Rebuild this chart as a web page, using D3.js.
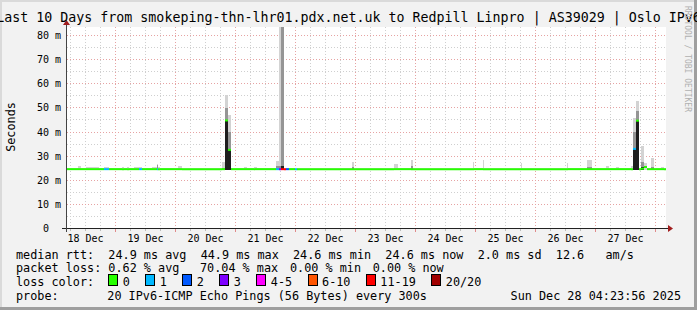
<!DOCTYPE html>
<html>
<head>
<meta charset="utf-8">
<script src="https://cdn.jsdelivr.net/npm/d3@7"></script>
<style>
html, body { margin: 0; padding: 0; background: #f2f2f2; }
svg { display: block; font-family: "DejaVu Sans Mono", monospace; }
text { white-space: pre; }
</style>
</head>
<body>
<svg id="chart" width="697" height="310"></svg>
<script>
// time window of the graph
var startTime = new Date(2025, 11, 18, 4, 23, 56);
var endTime = new Date(2025, 11, 28, 4, 23, 56);

var titleText = "Last 10 Days from smokeping-thn-lhr01.pdx.net.uk to Redpill Linpro | AS39029 | Oslo IPv6";
var yTickValues = [0, 10, 20, 30, 40, 50, 60, 70, 80];

var lossLabels = ["0", "1", "2", "3", "4-5", "6-10", "11-19", "20/20"];
var lossUpper = [0, 1, 2, 3, 5, 10, 19, 20];
var lossColors = ["#26ff00", "#00b8ff", "#0059ff", "#7e00ff", "#ff00ff", "#ff5500", "#ff0000", "#a10000"];

// samples: start of each step, hours after startTime
var sampleHours = [0, 4.5, 5.8, 7.6, 12.8, 14.8, 16.8, 22.0, 22.8, 24.0,
  24.8, 26.8, 28.8, 30.0, 34.0, 36.0, 36.6, 37.2, 44.4, 46.0,
  62.0, 63.3, 64.5, 65.9, 70.8, 72.0, 74.8, 76.0, 83.7, 84.8,
  85.7, 86.8, 87.7, 88.8, 91.2, 92.0, 114.2, 115.0, 131.2, 132.4,
  137.8, 138.4, 162.4, 163.0, 166.4, 167.0, 181.6, 182.2, 200.0, 200.6,
  208.3, 210.3, 215.6, 216.8, 219.6, 220.8, 225.6, 226.5, 227.9, 228.9,
  229.8, 231.0, 232.0, 233.9, 234.8, 237.6, 239.0];

// median rtt in ms
var medianMs = [24.6, 24.6, 24.6, 24.6, 24.6, 24.6, 24.6, 24.6, 24.6, 24.6,
  24.6, 24.6, 24.6, 24.6, 24.6, 24.6, 24.6, 24.6, 24.6, 24.6,
  24.6, 44.8, 32.6, 24.6, 24.6, 24.6, 24.6, 24.6, 24.6, 24.6,
  24.6, 24.6, 24.6, 24.6, 24.6, 24.6, 24.6, 24.6, 24.6, 24.6,
  24.6, 24.6, 24.6, 24.6, 24.6, 24.6, 24.6, 24.6, 24.6, 24.6,
  24.6, 24.6, 24.6, 24.6, 24.6, 24.6, 24.6, 33.0, 44.7, 24.6,
  24.8, 25.5, 24.6, 24.6, 24.6, 24.6, 24.6];

// lost pings out of 20
var lossPings = [0, 0, 0, 0, 0, 1, 0, 0, 0, 0,
  0, 0, 1, 0, 0, 1, 0, 0, 0, 0,
  0, 0, 0, 0, 0, 0, 0, 0, 1, 3,
  14, 14, 2, 0, 1, 0, 0, 0, 0, 0,
  0, 0, 0, 0, 0, 0, 0, 0, 0, 0,
  0, 0, 0, 0, 0, 0, 0, 1, 0, 0,
  0, 0, 0, 0, 0, 0, 0];

// smoke: max ping, upper quartile-ish, dense part
var smokeMax = [25.0, 25.7, 25.0, 25.4, 25.0, 25.5, 25.0, 25.5, 25.0, 25.5,
  25.0, 25.4, 25.4, 25.0, 25.4, 26.6, 25.4, 25.0, 25.8, 25.0,
  27.7, 55.4, 47.1, 25.0, 25.5, 25.0, 25.5, 25.0, 28.0, 95.0,
  95.0, 25.0, 25.0, 25.0, 25.0, 25.0, 27.4, 25.0, 26.8, 25.0,
  28.6, 25.0, 27.5, 25.0, 28.2, 25.0, 27.0, 25.0, 27.0, 25.0,
  28.2, 25.0, 25.7, 25.0, 25.5, 25.0, 26.0, 46.0, 52.8, 25.0,
  34.0, 27.0, 25.0, 29.4, 25.0, 25.4, 25.0];

var smokeMid = [24.6, 24.6, 24.6, 24.6, 24.6, 24.6, 24.6, 24.6, 24.6, 24.6,
  24.6, 24.6, 24.6, 24.6, 24.6, 26.4, 24.6, 24.6, 24.6, 24.6,
  25.2, 50.0, 40.0, 24.6, 24.6, 24.6, 24.6, 24.6, 26.0, 26.0,
  95.0, 24.6, 24.6, 24.6, 24.6, 24.6, 25.3, 24.6, 24.6, 24.6,
  26.0, 24.6, 24.6, 24.6, 24.6, 24.6, 24.6, 24.6, 24.6, 24.6,
  25.6, 24.6, 24.6, 24.6, 24.6, 24.6, 24.6, 40.0, 48.5, 24.6,
  27.5, 24.6, 24.6, 25.5, 24.6, 24.6, 24.6];

var smokeDark = [24.6, 24.6, 24.6, 24.6, 24.6, 24.6, 24.6, 24.6, 24.6, 24.6,
  24.6, 24.6, 24.6, 24.6, 24.6, 24.6, 24.6, 24.6, 24.6, 24.6,
  24.6, 44.8, 32.6, 24.6, 24.6, 24.6, 24.6, 24.6, 24.6, 24.6,
  26.0, 24.6, 24.6, 24.6, 24.6, 24.6, 24.6, 24.6, 24.6, 24.6,
  24.6, 24.6, 24.6, 24.6, 24.6, 24.6, 24.6, 24.6, 24.6, 24.6,
  24.6, 24.6, 24.6, 24.6, 24.6, 24.6, 24.6, 33.0, 44.7, 24.6,
  25.5, 24.6, 24.6, 24.6, 24.6, 24.6, 24.6];

var smokeMinMs = 24.4;

var statsRtt = "median rtt:  24.9 ms avg  44.9 ms max  24.6 ms min  24.6 ms now  2.0 ms sd  12.6   am/s";
var statsLoss = [["packet loss: 0.62 % avg", 16], ["70.04 % max", 200], ["0.00 % min", 290], ["0.00 % now", 372.7]];
var probeText = "20 IPv6-ICMP Echo Pings (56 Bytes) every 300s";
var stampText = "Sun Dec 28 04:23:56 2025";

var W = 697, H = 310;
var plotLeft = 67, plotRight = 666, plotTop = 27, plotBottom = 228;

var svg = d3.select("#chart");

// canvas and 3d border
svg.append("rect").attr("width", W).attr("height", H).attr("fill", "#f2f2f2");
svg.append("rect").attr("x", 0).attr("y", 0).attr("width", W).attr("height", 2).attr("fill", "#dadada");
svg.append("rect").attr("x", 0).attr("y", 0).attr("width", 2).attr("height", H).attr("fill", "#dadada");
svg.append("rect").attr("x", 0).attr("y", H - 3).attr("width", W).attr("height", 3).attr("fill", "#9f9f9f");
svg.append("rect").attr("x", W - 3).attr("y", 0).attr("width", 3).attr("height", H).attr("fill", "#9f9f9f");

svg.append("rect")
  .attr("x", plotLeft).attr("y", plotTop)
  .attr("width", plotRight - plotLeft).attr("height", plotBottom - plotTop)
  .attr("fill", "#ffffff");

var x = d3.scaleTime().domain([startTime, endTime]).range([66.5, 666.5]);
var y = d3.scaleLinear().domain([0, 80]).range([228.5, 35.5]);

function hoursToDate(h) { return new Date(startTime.getTime() + h * 3600 * 1000); }
function px(v) { return Math.floor(v) + 0.5; }

// grid
var grid = svg.append("g").attr("shape-rendering", "crispEdges");
var minorX = d3.timeHour.every(6).range(startTime, endTime).filter(d => d.getHours() != 0);
var majorX = d3.timeDay.range(startTime, endTime);
grid.selectAll(".vminor").data(minorX).enter().append("line")
  .attr("x1", d => px(x(d))).attr("x2", d => px(x(d)))
  .attr("y1", plotTop).attr("y2", plotBottom)
  .attr("stroke", "#cfcfcf").attr("stroke-dasharray", "1,2");
var minorY = d3.range(5, 85, 10);
grid.selectAll(".hminor").data(minorY).enter().append("line")
  .attr("x1", plotLeft).attr("x2", plotRight)
  .attr("y1", d => px(y(d))).attr("y2", d => px(y(d)))
  .attr("stroke", "#cfcfcf").attr("stroke-dasharray", "1,2");
grid.selectAll(".vmajor").data(majorX).enter().append("line")
  .attr("x1", d => px(x(d))).attr("x2", d => px(x(d)))
  .attr("y1", plotTop).attr("y2", plotBottom)
  .attr("stroke", "#e6a3a3").attr("stroke-dasharray", "1,2");
grid.selectAll(".hmajor").data(yTickValues.filter(v => v > 0)).enter().append("line")
  .attr("x1", plotLeft).attr("x2", plotRight)
  .attr("y1", d => px(y(d))).attr("y2", d => px(y(d)))
  .attr("stroke", "#e6a3a3").attr("stroke-dasharray", "1,2");

// clip to plot
svg.append("clipPath").attr("id", "plotclip").append("rect")
  .attr("x", plotLeft).attr("y", plotTop)
  .attr("width", plotRight - plotLeft).attr("height", plotBottom - plotTop);

var samples = sampleHours.map(function (h, i) {
  var next = i < sampleHours.length - 1 ? sampleHours[i + 1] : 240;
  return {
    t0: hoursToDate(h), t1: hoursToDate(next),
    median: medianMs[i], loss: lossPings[i],
    max: smokeMax[i], mid: smokeMid[i], dark: smokeDark[i]
  };
});

var dataG = svg.append("g").attr("clip-path", "url(#plotclip)");

// smoke bands
var bands = [["max", "#d3d3d3"], ["mid", "#959595"], ["dark", "#1e1e1e"]];
bands.forEach(function (b) {
  dataG.append("g").attr("shape-rendering", "crispEdges")
    .selectAll("rect").data(samples.filter(d => d[b[0]] > d.median + 0.3 || (b[0] != "max" && d[b[0]] > smokeMinMs + 0.3)))
    .enter().append("rect")
    .attr("x", d => Math.round(x(d.t0)))
    .attr("width", d => Math.max(1, Math.round(x(d.t1)) - Math.round(x(d.t0))))
    .attr("y", d => y(d[b[0]]))
    .attr("height", d => y(smokeMinMs) - y(d[b[0]]))
    .attr("fill", b[1]);
});

// median line, colored by loss
function lossColor(n) {
  for (var i = 0; i < lossUpper.length; i++) if (n <= lossUpper[i]) return lossColors[i];
  return lossColors[lossColors.length - 1];
}
var seg = d3.line().x(p => p[0]).y(p => p[1]);
dataG.append("g").selectAll("path").data(samples).enter().append("path")
  .attr("d", d => seg([[Math.round(x(d.t0)), y(d.median)], [Math.round(x(d.t1)), y(d.median)]]))
  .attr("stroke", d => lossColor(d.loss))
  .attr("stroke-width", 2)
  .attr("fill", "none");

// axes
var axisG = svg.append("g").attr("shape-rendering", "crispEdges");
axisG.selectAll(".tmin").data(minorX).enter().append("line")
  .attr("x1", d => px(x(d))).attr("x2", d => px(x(d)))
  .attr("y1", 229).attr("y2", 231).attr("stroke", "#bbbbbb");
axisG.selectAll(".tmaj").data(majorX).enter().append("line")
  .attr("x1", d => px(x(d))).attr("x2", d => px(x(d)))
  .attr("y1", 229).attr("y2", 232).attr("stroke", "#e08a8a");
axisG.append("line").attr("x1", 62).attr("x2", 668).attr("y1", 228.5).attr("y2", 228.5).attr("stroke", "#222");
axisG.append("line").attr("x1", 66.5).attr("x2", 66.5).attr("y1", 232).attr("y2", 24).attr("stroke", "#444");
svg.append("path").attr("d", "M668,225 L673,228.5 L668,232 Z").attr("fill", "#a11d1d");
svg.append("path").attr("d", "M63,25 L66.5,20 L70,25 Z").attr("fill", "#a11d1d");

// y labels
svg.append("g").selectAll("text").data(yTickValues).enter().append("text")
  .attr("x", 61).attr("y", d => y(d) + 3.5)
  .attr("text-anchor", "end").attr("font-size", "10px").attr("fill", "#000")
  .text(d => d === 0 ? "0\u00a0\u00a0" : d + " m");

// x labels at noon
svg.append("g").selectAll("text").data(majorX.concat([d3.timeDay.floor(startTime)]))
  .enter().append("text")
  .attr("x", d => x(d3.timeHour.offset(d, 12)))
  .attr("y", 241.5)
  .attr("text-anchor", "middle").attr("font-size", "10px")
  .text(d => d3.timeFormat("%d %b")(d))
  .filter(d => x(d3.timeHour.offset(d, 12)) < plotLeft || x(d3.timeHour.offset(d, 12)) > plotRight).remove();

// title
svg.append("text").attr("x", 348.5).attr("y", 21.5).attr("text-anchor", "middle")
  .attr("font-size", "13.3px").text(titleText);

// vertical labels
svg.append("text").attr("transform", "translate(14.5,127) rotate(-90)")
  .attr("text-anchor", "middle").attr("font-size", "11.8px").text("Seconds");
svg.append("text").attr("transform", "translate(685,6) rotate(90)")
  .attr("font-size", "8px").attr("fill", "#b0b0b0").text("RRDTOOL / TOBI OETIKER");

// legend
var leg = svg.append("g").attr("font-size", "11.8px");
leg.append("text").attr("x", 16).attr("y", 258.5).text(statsRtt);
statsLoss.forEach(function (p) {
  leg.append("text").attr("x", p[1]).attr("y", 272).text(p[0]);
});
leg.append("text").attr("x", 16).attr("y", 286).text("loss color:");
var lx = 108.3;
lossLabels.forEach(function (lab, i) {
  leg.append("rect").attr("x", Math.round(lx) + 0.5).attr("y", 274.5)
    .attr("width", 9).attr("height", 11)
    .attr("fill", lossColors[i]).attr("stroke", "#000").attr("shape-rendering", "crispEdges");
  var t = leg.append("text").attr("x", lx + 14.5).attr("y", 286).text(lab);
  lx = lx + 14.5 + t.node().getComputedTextLength() + 15.4;
});
leg.append("text").attr("x", 16).attr("y", 299.5).text("probe:");
leg.append("text").attr("x", 107.3).attr("y", 299.5).text(probeText);
leg.append("text").attr("x", 681).attr("y", 299.5).attr("text-anchor", "end").text(stampText);
</script>
</body>
</html>
